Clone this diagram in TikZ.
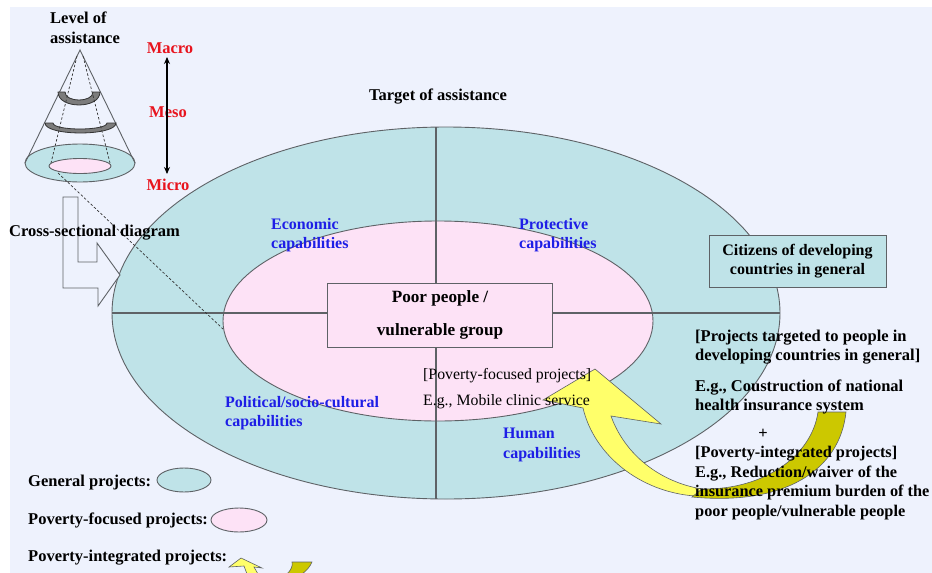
\documentclass[tikz,border=0pt]{standalone}
\usepackage{fontspec}
\setmainfont{Liberation Serif}
\usetikzlibrary{arrows.meta}
\definecolor{bg}{HTML}{EEF2FD}
\definecolor{tealf}{HTML}{BFE3E8}
\definecolor{pinkf}{HTML}{FDE2F6}
\definecolor{edge}{HTML}{5E6266}
\definecolor{capblue}{HTML}{1E1EE6}
\definecolor{lvred}{HTML}{E8141E}
\definecolor{yel}{HTML}{FFFF6A}
\definecolor{olive}{HTML}{CCC800}
\definecolor{bandg}{HTML}{7C7C7C}
\begin{document}
\begin{tikzpicture}[x=1pt,y=-1pt,
  txt/.style={font=\fontsize{16.5}{19.5}\selectfont\bfseries, inner sep=0pt, align=left},
  plaintxt/.style={font=\fontsize{15.8}{26}\selectfont, inner sep=0pt, align=left},
  captxt/.style={font=\fontsize{16}{19.5}\selectfont\bfseries, inner sep=0pt, align=left, text=capblue},
  lvltxt/.style={txt, text=lvred, anchor=center},
  shapeline/.style={draw=edge, line width=0.9pt},
  crossline/.style={draw=edge, line width=1.1pt},
  boxstyle/.style={draw=edge, line width=0.9pt, inner sep=0pt, align=center},
  dashline/.style={draw=black!80, dash pattern=on 2.5pt off 2pt, line width=0.7pt}
]
\useasboundingbox (0,0) rectangle (932,573);
\fill[white] (0,0) rectangle (932,573);
\fill[bg] (10,7) rectangle (932,573);

% main ellipses
\path[shapeline, fill=tealf] (446,313) ellipse [x radius=334, y radius=186];
\path[shapeline, fill=pinkf] (438,321) ellipse [x radius=215, y radius=100];
\coordinate (vtop) at (436,127);
\coordinate (vbot) at (436,499);
\coordinate (hleft) at (112,313);
\coordinate (hright) at (780,313);
\draw[crossline] (vtop) -- (vbot);
\draw[crossline] (hleft) -- (hright);

% center box
\node[boxstyle, fill=pinkf, minimum width=225pt, minimum height=64pt,
      font=\fontsize{17.2}{33}\selectfont\bfseries] (poor) at (440,315)
      {Poor people /\\vulnerable group};

% citizens box
\node[boxstyle, fill=tealf, minimum width=177pt, minimum height=52pt,
      font=\fontsize{16}{19}\selectfont\bfseries] (citizens) at (797.5,261)
      {Citizens of developing\\countries in general};

% big curved arrow
\path[draw=edge, line width=0.6pt, fill=yel]
  (695,496) .. controls (640,492) and (594,455) .. (583,408)
  -- (543,400) -- (595,369) -- (661,424) -- (611,416)
  .. controls (625,455) and (660,482) .. (702,489) -- cycle;
\path[draw=edge, line width=0.6pt, fill=olive]
  (692,497) .. controls (785,506) and (840,470) .. (846,412)
  -- (818,412) .. controls (812,455) and (765,490) .. (702,489) -- cycle;

% titles and labels
\node[txt, anchor=center] (target) at (438,97) {Target of assistance};
\node[captxt, anchor=west] (econ) at (271,235) {Economic\\capabilities};
\node[captxt, anchor=west] (prot) at (519,235) {Protective\\capabilities};
\node[captxt, anchor=west] (polit) at (225,413) {Political/socio-cultural\\capabilities};
\node[captxt, anchor=west] (human) at (503,445) {Human\\capabilities};
\node[plaintxt, anchor=west] (pfp) at (423,389) {[Poverty-focused projects]\\E.g., Mobile clinic service};

\node[txt, anchor=west] (rt1) at (695,347) {[Projects targeted to people in\\developing countries in general]};
\node[txt, anchor=west] (rt2) at (695,397) {E.g., Coustruction of national\\health insurance system};
\node[txt, anchor=center] (plus) at (763,434) {+};
\node[txt, anchor=west, font=\fontsize{16.3}{19.6}\selectfont\bfseries] (rt3) at (695,483)
  {[Poverty-integrated projects]\\E.g., Reduction/waiver of the\\insurance premium burden of the\\poor people/vulnerable people};

% cone
\coordinate (apex) at (80,50);
\path[shapeline, fill=tealf] (80,163) ellipse [x radius=55, y radius=19];
\path[shapeline, fill=pinkf] (80,166) ellipse [x radius=31, y radius=7.5];
\draw[shapeline] (25,163) -- (apex) -- (135,163);
\path[draw=black!80, line width=0.8pt, fill=bandg]
  (58,92) -- (65,92) .. controls (65,102.7) and (93,102.7) .. (93,92)
  -- (100,92) .. controls (100,109.3) and (58,109.3) .. (58,92) -- cycle;
\path[draw=black!80, line width=0.8pt, fill=bandg]
  (45,123) -- (53,123) .. controls (53,131) and (107,131) .. (107,123)
  -- (116,123) .. controls (116,136.3) and (45,136.3) .. (45,123) -- cycle;
\coordinate (dl1) at (77,56);
\coordinate (dl2) at (51,163);
\coordinate (dr1) at (83,56);
\coordinate (dr2) at (110,163);
\draw[dashline] (dl1) -- (dl2);
\draw[dashline] (dr1) -- (dr2);

\node[txt, anchor=west] (level) at (50,28) {Level of\\assistance};
\node[lvltxt] (macro) at (170,48) {Macro};
\node[lvltxt] (meso) at (168,112) {Meso};
\node[lvltxt] (micro) at (168,185) {Micro};
\coordinate (arrtop) at (167,57);
\coordinate (arrbot) at (167,174);
\draw[line width=1.1pt, {Stealth[length=7pt,width=6pt]}-{Stealth[length=7pt,width=6pt]}] (arrtop) -- (arrbot);

% cross-sectional block arrow
\path[draw=edge, line width=0.9pt, fill=bg]
  (63,197) -- (78,197) -- (78,262) -- (97,262) -- (97,243) -- (120,275)
  -- (98,306) -- (98,288) -- (63,288) -- cycle;
\coordinate (cs1) at (58,173);
\coordinate (cs2) at (223,329);
\draw[dashline] (cs1) -- (cs2);
\node[txt, anchor=west] (cross) at (9,233) {Cross-sectional diagram};

% legend
\node[txt, anchor=west] (lg1) at (28,483) {General projects:};
\path[shapeline, fill=tealf] (184,480) ellipse [x radius=27, y radius=12];
\node[txt, anchor=west] (lg2) at (28,520) {Poverty-focused projects:};
\path[shapeline, fill=pinkf] (239,520) ellipse [x radius=28, y radius=12];
\node[txt, anchor=west] (lg3) at (28,558) {Poverty-integrated projects:};
\path[draw=edge, line width=0.6pt, fill=yel]
  (229,567) -- (241,558) -- (262,568) -- (254,567) -- (258,574) -- (247,574) -- (244,566) -- cycle;
\path[draw=edge, line width=0.6pt, fill=olive]
  (312,562) .. controls (310,567) and (306,571) .. (302,574) -- (287,574)
  .. controls (291,570) and (293,566) .. (292,562) -- cycle;
\end{tikzpicture}
\end{document}
